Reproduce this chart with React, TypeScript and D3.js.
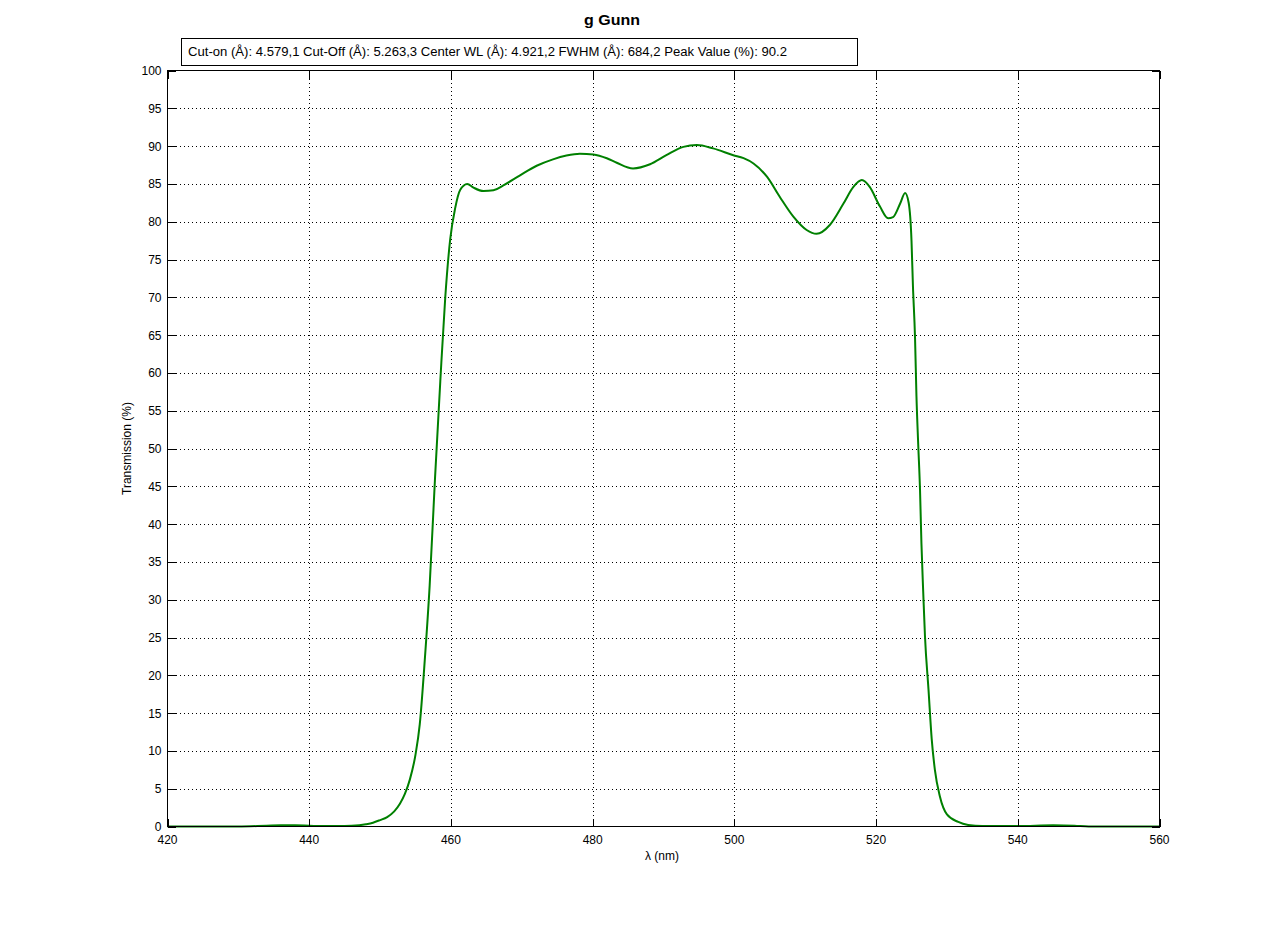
import React, { useEffect, useRef } from "react";
import * as d3 from "d3";

const wavelengths = [420, 430, 434, 436, 438, 440, 442, 444, 446, 448, 449, 450, 451, 452, 452.8, 453.5, 454.2, 455, 455.6, 456.3, 457, 457.75, 458.5, 459.2, 459.9, 460.6, 461.3, 462.3, 463.2, 464.6, 466, 467.4, 469.7, 472.1, 474.4, 476.3, 478.2, 480.1, 482, 483.4, 485.7, 488.1, 490.4, 492.8, 494.7, 497, 499.85, 501.3, 502.7, 504.6, 506.4, 508.3, 510.2, 511.6, 513.5, 515.4, 516.8, 518, 519.1, 520.55, 521.7, 522.4, 523.4, 524.1, 524.6, 525, 525.2, 525.5, 525.7, 525.95, 526.2, 526.4, 526.65, 526.9, 527.4, 527.85, 528.3, 529, 530, 531.6, 533, 535, 540, 545, 548, 550, 560];
const transmission = [0, 0, 0.1, 0.15, 0.15, 0.1, 0.05, 0.05, 0.1, 0.3, 0.5, 0.85, 1.25, 2.0, 3.0, 4.3, 6.2, 9.5, 13.5, 21.9, 31.9, 46, 58.9, 70, 77.7, 81.8, 84.2, 85.0, 84.5, 84.05, 84.15, 84.8, 86.1, 87.4, 88.25, 88.75, 89.0, 88.9, 88.4, 87.8, 87.05, 87.6, 88.8, 89.9, 90.15, 89.7, 88.8, 88.4, 87.7, 85.95, 83.3, 80.7, 78.9, 78.4, 79.6, 82.4, 84.6, 85.5, 84.6, 82.0, 80.45, 80.6, 82.4, 83.8, 82.5, 77.5, 71.6, 64.6, 56.9, 50.5, 44.6, 37.5, 31.1, 25.2, 18.1, 11.6, 7.5, 4.0, 1.6, 0.6, 0.2, 0.05, 0.05, 0.15, 0.1, 0, 0];

const xTicks = [420, 440, 460, 480, 500, 520, 540, 560];
const yTicks = [0, 5, 10, 15, 20, 25, 30, 35, 40, 45, 50, 55, 60, 65, 70, 75, 80, 85, 90, 95, 100];

const titleText = "g Gunn";
const infoText = "Cut-on (Å): 4.579,1 Cut-Off (Å): 5.263,3 Center WL (Å): 4.921,2 FWHM (Å): 684,2 Peak Value (%): 90.2";
const xLabel = "λ (nm)";
const yLabel = "Transmission (%)";

const W = 1281;
const H = 929;
const L = 167.5, R = 1159.5, T = 70.5, B = 826.5;
const FONT = "Liberation Sans, Arial, sans-serif";

export default function App() {
  const ref = useRef<SVGSVGElement>(null);

  useEffect(() => {
    const svg = d3.select(ref.current);
    svg.selectAll("*").remove();

    const x = d3.scaleLinear().domain([420, 560]).range([L, R]);
    const y = d3.scaleLinear().domain([0, 100]).range([B, T]);

    svg.append("rect").attr("width", W).attr("height", H).attr("fill", "#fff");

    // grid
    const g = svg.append("g");
    xTicks.slice(1, -1).forEach((t) => {
      g.append("line")
        .attr("x1", Math.round(x(t)) + 0.5).attr("x2", Math.round(x(t)) + 0.5)
        .attr("y1", T).attr("y2", B)
        .attr("stroke", "#000").attr("stroke-width", 1).attr("stroke-dasharray", "1,3")
        .attr("shape-rendering", "crispEdges");
    });
    yTicks.slice(1, -1).forEach((t) => {
      g.append("line")
        .attr("x1", L).attr("x2", R)
        .attr("y1", Math.round(y(t)) + 0.5).attr("y2", Math.round(y(t)) + 0.5)
        .attr("stroke", "#000").attr("stroke-width", 1).attr("stroke-dasharray", "1,3")
        .attr("shape-rendering", "crispEdges");
    });

    // data line
    const pts = wavelengths.map((w, i) => [w, transmission[i]] as [number, number]);
    const line = d3.line<[number, number]>()
      .x((d) => x(d[0]))
      .y((d) => y(d[1]))
      .curve(d3.curveMonotoneX);
    svg.append("path")
      .attr("d", line(pts) as string)
      .attr("fill", "none")
      .attr("stroke", "#008000")
      .attr("stroke-width", 2);

    // ticks
    const tl = 8;
    const tk = svg.append("g").attr("stroke", "#000").attr("stroke-width", 1).attr("shape-rendering", "crispEdges");
    xTicks.forEach((t) => {
      const xx = Math.round(x(t)) + 0.5;
      tk.append("line").attr("x1", xx).attr("x2", xx).attr("y1", B).attr("y2", B - tl);
      tk.append("line").attr("x1", xx).attr("x2", xx).attr("y1", T).attr("y2", T + tl);
    });
    yTicks.forEach((t) => {
      const yy = Math.round(y(t)) + 0.5;
      tk.append("line").attr("x1", L).attr("x2", L + tl).attr("y1", yy).attr("y2", yy);
      tk.append("line").attr("x1", R).attr("x2", R - tl).attr("y1", yy).attr("y2", yy);
    });

    // axes box
    svg.append("rect")
      .attr("x", L).attr("y", T).attr("width", R - L).attr("height", B - T)
      .attr("fill", "none").attr("stroke", "#000").attr("stroke-width", 1)
      .attr("shape-rendering", "crispEdges");

    // tick labels
    const lbl = svg.append("g").attr("font-family", FONT).attr("font-size", 12).attr("fill", "#000");
    xTicks.forEach((t) => {
      lbl.append("text").attr("x", x(t)).attr("y", B + 17).attr("text-anchor", "middle").text(String(t));
    });
    yTicks.forEach((t) => {
      lbl.append("text").attr("x", L - 6).attr("y", y(t) + 4.5).attr("text-anchor", "end").text(String(t));
    });

    // axis labels
    svg.append("text")
      .attr("x", 662).attr("y", 860)
      .attr("text-anchor", "middle").attr("font-family", FONT).attr("font-size", 12)
      .text(xLabel);
    svg.append("text")
      .attr("transform", `translate(131,${(T + B) / 2}) rotate(-90)`)
      .attr("text-anchor", "middle").attr("font-family", FONT).attr("font-size", 12)
      .text(yLabel);

    // title
    svg.append("text")
      .attr("x", 584).attr("y", 25)
      .attr("font-family", FONT).attr("font-size", 14.5)
      .attr("font-weight", "bold")
      .attr("textLength", 56).attr("lengthAdjust", "spacingAndGlyphs")
      .text(titleText);

    // info box
    svg.append("rect")
      .attr("x", 181.5).attr("y", 38.5).attr("width", 676).attr("height", 27)
      .attr("fill", "#fff").attr("stroke", "#000").attr("stroke-width", 1)
      .attr("shape-rendering", "crispEdges");
    svg.append("text")
      .attr("x", 188).attr("y", 56)
      .attr("font-family", FONT).attr("font-size", 12.5)
      .attr("textLength", 599).attr("lengthAdjust", "spacingAndGlyphs")
      .text(infoText);
  }, []);

  return (
    <svg
      ref={ref}
      width={W}
      height={H}
      style={{ position: "absolute", left: 0, top: 0, display: "block" }}
    />
  );
}
